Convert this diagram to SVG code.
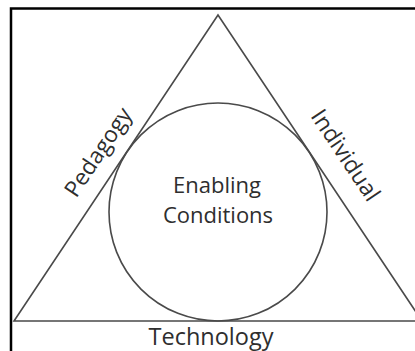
<svg xmlns="http://www.w3.org/2000/svg" width="415" height="351" viewBox="0 0 415 351">
<style>
.shape{fill:none;stroke:#4a4a4a;stroke-width:1.6}
.lbl{font-family:"Open Sans","Liberation Sans",sans-serif;font-size:22px;fill:#2e2e2e;text-anchor:middle}
</style>
<rect width="415" height="351" fill="#ffffff"/>
<rect id="frame" x="11" y="8.5" width="420" height="360" fill="none" stroke="#000" stroke-width="2.5"/>
<g id="triangle">
<polygon class="shape" points="218,15 14,321 422,321"/>
</g>
<g id="circle">
<circle class="shape" cx="218" cy="212" r="109"/>
<text class="lbl" x="217" y="193">Enabling</text>
<text class="lbl" x="218" y="223">Conditions</text>
</g>
<g id="pedagogy">
<text class="lbl" x="0" y="0" transform="translate(104.5,156.5) rotate(-56.31)" style="font-size:22.5px">Pedagogy</text>
</g>
<g id="individual">
<text class="lbl" x="0" y="0" transform="translate(339,159.5) rotate(56.31)" style="font-size:23px">Individual</text>
</g>
<g id="technology">
<text class="lbl" x="211" y="344.5" style="font-size:23.5px">Technology</text>
</g>
<g id="connectors"></g>
</svg>
